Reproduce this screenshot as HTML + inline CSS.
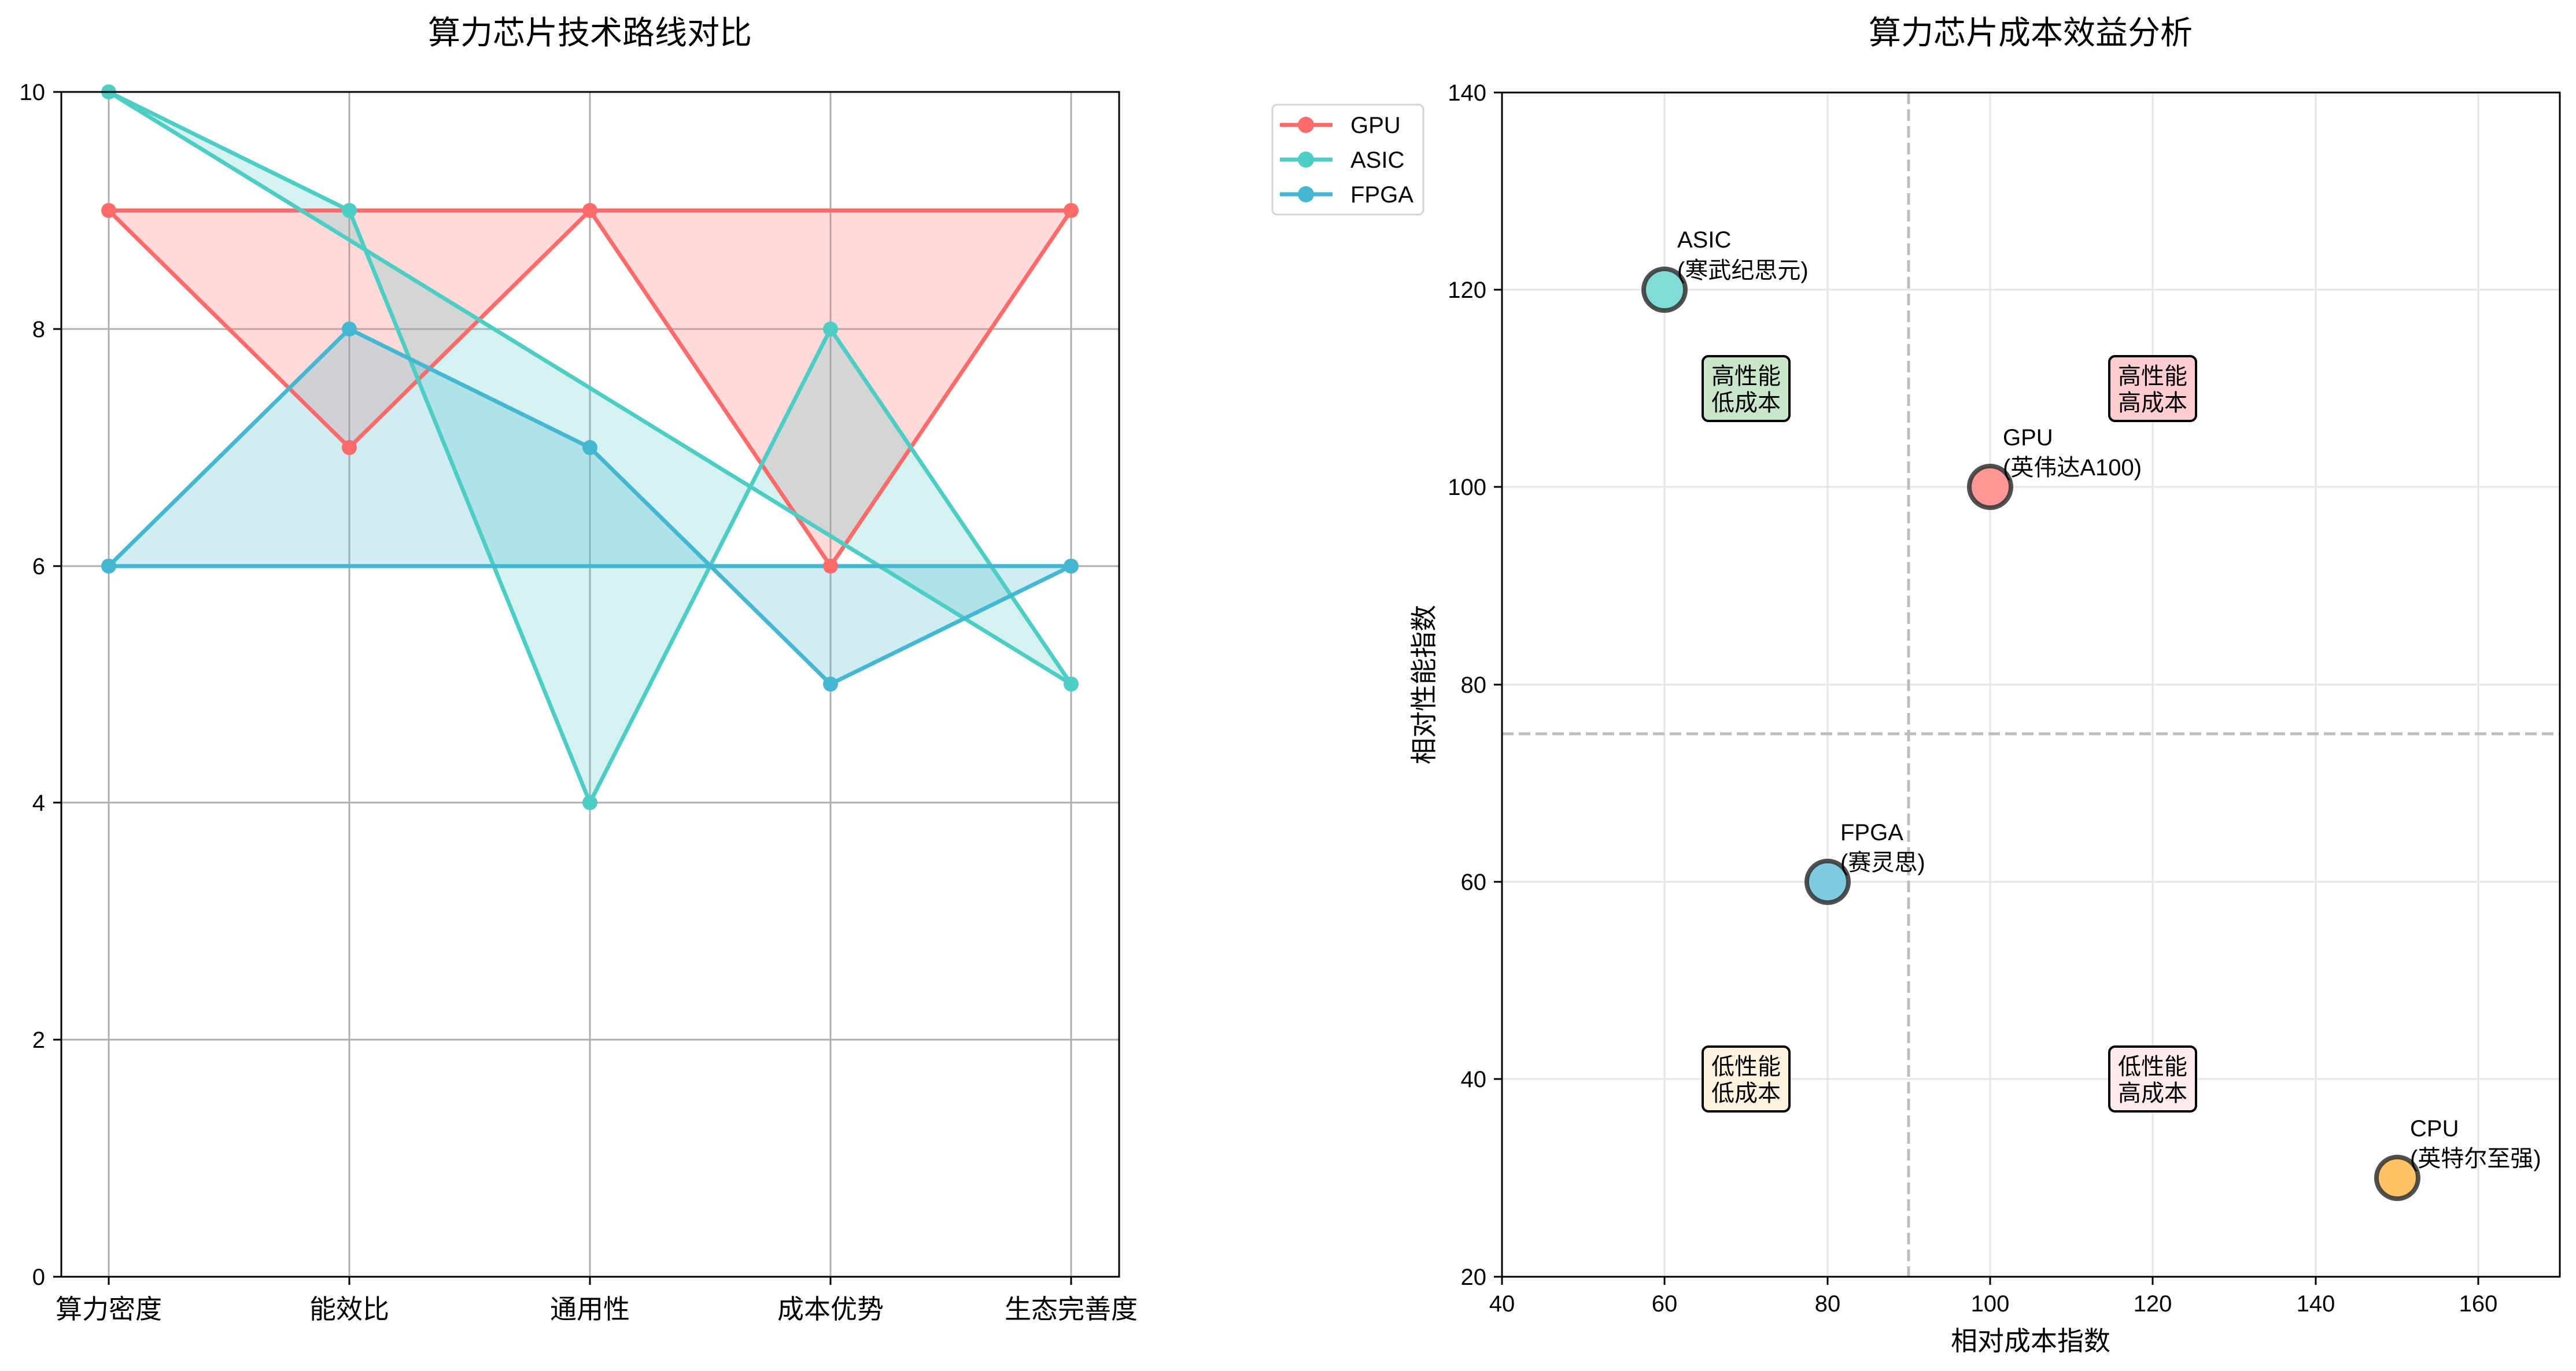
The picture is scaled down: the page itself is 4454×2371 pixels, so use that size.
<!DOCTYPE html>
<html><head><meta charset="utf-8"><style>body{margin:0;background:#fff}svg{display:block}text{font-family:"Liberation Sans","Noto Sans CJK SC",sans-serif;fill:#000}</style></head><body>
<svg width="4454" height="2371" viewBox="0 0 4454 2371" xmlns="http://www.w3.org/2000/svg">
<rect width="4454" height="2371" fill="#fff"/>
<!-- LEFT CHART -->
<text x="1020" y="76" font-size="56" text-anchor="middle">算力芯片技术路线对比</text>
<g stroke="#b0b0b0" stroke-width="3">
<line x1="188" y1="159" x2="188" y2="2208"/><line x1="604" y1="159" x2="604" y2="2208"/><line x1="1020" y1="159" x2="1020" y2="2208"/><line x1="1436" y1="159" x2="1436" y2="2208"/><line x1="1852" y1="159" x2="1852" y2="2208"/>
<line x1="106" y1="1798" x2="1935" y2="1798"/><line x1="106" y1="1388" x2="1935" y2="1388"/><line x1="106" y1="979" x2="1935" y2="979"/><line x1="106" y1="569" x2="1935" y2="569"/>
</g>
<polygon points="188,364 604,774 1020,364 1436,979 1852,364 188,364" fill="#ff6b6b" fill-opacity="0.25"/>
<polygon points="188,159 604,364 1020,1388 1436,569 1852,1183 188,159" fill="#4ecdc4" fill-opacity="0.25"/>
<polygon points="188,979 604,569 1020,774 1436,1183 1852,979 188,979" fill="#45b7d1" fill-opacity="0.25"/>
<g fill="none" stroke-width="7" stroke-linejoin="round">
<polyline points="188,364 604,774 1020,364 1436,979 1852,364 188,364" stroke="#ff6b6b"/>
<polyline points="188,159 604,364 1020,1388 1436,569 1852,1183 188,159" stroke="#4ecdc4"/>
<polyline points="188,979 604,569 1020,774 1436,1183 1852,979 188,979" stroke="#45b7d1"/>
</g>
<g fill="#ff6b6b"><circle cx="188" cy="364" r="13"/><circle cx="604" cy="774" r="13"/><circle cx="1020" cy="364" r="13"/><circle cx="1436" cy="979" r="13"/><circle cx="1852" cy="364" r="13"/></g>
<g fill="#4ecdc4"><circle cx="188" cy="159" r="13"/><circle cx="604" cy="364" r="13"/><circle cx="1020" cy="1388" r="13"/><circle cx="1436" cy="569" r="13"/><circle cx="1852" cy="1183" r="13"/></g>
<g fill="#45b7d1"><circle cx="188" cy="979" r="13"/><circle cx="604" cy="569" r="13"/><circle cx="1020" cy="774" r="13"/><circle cx="1436" cy="1183" r="13"/><circle cx="1852" cy="979" r="13"/></g>
<rect x="106" y="159" width="1829" height="2049" fill="none" stroke="#000" stroke-width="3"/>
<g stroke="#000" stroke-width="3">
<line x1="92" y1="159" x2="106" y2="159"/><line x1="92" y1="569" x2="106" y2="569"/><line x1="92" y1="979" x2="106" y2="979"/><line x1="92" y1="1388" x2="106" y2="1388"/><line x1="92" y1="1798" x2="106" y2="1798"/><line x1="92" y1="2208" x2="106" y2="2208"/>
<line x1="188" y1="2208" x2="188" y2="2222"/><line x1="604" y1="2208" x2="604" y2="2222"/><line x1="1020" y1="2208" x2="1020" y2="2222"/><line x1="1436" y1="2208" x2="1436" y2="2222"/><line x1="1852" y1="2208" x2="1852" y2="2222"/>
</g>
<g font-size="40" text-anchor="end">
<text x="78" y="173">10</text><text x="78" y="583">8</text><text x="78" y="993">6</text><text x="78" y="1402">4</text><text x="78" y="1812">2</text><text x="78" y="2222">0</text>
</g>
<g font-size="46" text-anchor="middle">
<text x="188" y="2280">算力密度</text><text x="604" y="2280">能效比</text><text x="1020" y="2280">通用性</text><text x="1436" y="2280">成本优势</text><text x="1852" y="2280">生态完善度</text>
</g>
<!-- LEGEND -->
<rect x="2200" y="181" width="261" height="190" rx="8" fill="#fff" stroke="#d5d5d5" stroke-width="3"/>
<g stroke-width="7"><line x1="2213" y1="216" x2="2304" y2="216" stroke="#ff6b6b"/><line x1="2213" y1="276" x2="2304" y2="276" stroke="#4ecdc4"/><line x1="2213" y1="336" x2="2304" y2="336" stroke="#45b7d1"/></g>
<circle cx="2258" cy="216" r="14" fill="#ff6b6b"/><circle cx="2258" cy="276" r="14" fill="#4ecdc4"/><circle cx="2258" cy="336" r="14" fill="#45b7d1"/>
<g font-size="40"><text x="2335" y="230">GPU</text><text x="2335" y="290">ASIC</text><text x="2335" y="350">FPGA</text></g>
<!-- RIGHT CHART -->
<text x="3511" y="76" font-size="56" text-anchor="middle">算力芯片成本效益分析</text>
<g stroke="#e6e6e6" stroke-width="3">
<line x1="2878" y1="160" x2="2878" y2="2208"/><line x1="3160" y1="160" x2="3160" y2="2208"/><line x1="3441" y1="160" x2="3441" y2="2208"/><line x1="3722" y1="160" x2="3722" y2="2208"/><line x1="4004" y1="160" x2="4004" y2="2208"/><line x1="4285" y1="160" x2="4285" y2="2208"/>
<line x1="2597" y1="501" x2="4426" y2="501"/><line x1="2597" y1="842" x2="4426" y2="842"/><line x1="2597" y1="1184" x2="4426" y2="1184"/><line x1="2597" y1="1525" x2="4426" y2="1525"/><line x1="2597" y1="1866" x2="4426" y2="1866"/>
</g>
<g stroke="#bdbdbd" stroke-width="5" stroke-dasharray="20,9">
<line x1="3300" y1="160" x2="3300" y2="2208"/><line x1="2597" y1="1269" x2="4426" y2="1269"/>
</g>
<g stroke="#000" stroke-width="4">
<rect x="2944" y="616" width="150" height="112" rx="10" fill="#c8e6c9"/>
<rect x="3647" y="616" width="150" height="112" rx="10" fill="#ffcdd2"/>
<rect x="2944" y="1810" width="150" height="112" rx="10" fill="#fff3e0"/>
<rect x="3647" y="1810" width="150" height="112" rx="10" fill="#ffebee"/>
</g>
<g font-size="40" text-anchor="middle">
<text x="3019" y="664">高性能</text><text x="3019" y="710">低成本</text>
<text x="3722" y="664">高性能</text><text x="3722" y="710">高成本</text>
<text x="3019" y="1858">低性能</text><text x="3019" y="1904">低成本</text>
<text x="3722" y="1858">低性能</text><text x="3722" y="1904">高成本</text>
</g>
<g stroke="#333" stroke-opacity="0.85" stroke-width="8">
<circle cx="3441" cy="842" r="36" fill="#ff9797"/>
<circle cx="2878" cy="501" r="36" fill="#82dcd6"/>
<circle cx="3160" cy="1525" r="36" fill="#7ccbdf"/>
<circle cx="4145" cy="2037" r="36" fill="#ffc266"/>
</g>
<g font-size="40">
<text x="3463" y="770">GPU</text><text x="3463" y="822">(英伟达A100)</text>
<text x="2900" y="428">ASIC</text><text x="2900" y="481">(寒武纪思元)</text>
<text x="3182" y="1453">FPGA</text><text x="3182" y="1505">(赛灵思)</text>
<text x="4167" y="1965">CPU</text><text x="4167" y="2017">(英特尔至强)</text>
</g>
<rect x="2597" y="160" width="1829" height="2048" fill="none" stroke="#000" stroke-width="3"/>
<g stroke="#000" stroke-width="3">
<line x1="2583" y1="160" x2="2597" y2="160"/><line x1="2583" y1="501" x2="2597" y2="501"/><line x1="2583" y1="842" x2="2597" y2="842"/><line x1="2583" y1="1184" x2="2597" y2="1184"/><line x1="2583" y1="1525" x2="2597" y2="1525"/><line x1="2583" y1="1866" x2="2597" y2="1866"/><line x1="2583" y1="2208" x2="2597" y2="2208"/>
<line x1="2597" y1="2208" x2="2597" y2="2222"/><line x1="2878" y1="2208" x2="2878" y2="2222"/><line x1="3160" y1="2208" x2="3160" y2="2222"/><line x1="3441" y1="2208" x2="3441" y2="2222"/><line x1="3722" y1="2208" x2="3722" y2="2222"/><line x1="4004" y1="2208" x2="4004" y2="2222"/><line x1="4285" y1="2208" x2="4285" y2="2222"/>
</g>
<g font-size="40" text-anchor="end">
<text x="2570" y="174">140</text><text x="2570" y="515">120</text><text x="2570" y="856">100</text><text x="2570" y="1198">80</text><text x="2570" y="1539">60</text><text x="2570" y="1880">40</text><text x="2570" y="2222">20</text>
</g>
<g font-size="40" text-anchor="middle">
<text x="2597" y="2268">40</text><text x="2878" y="2268">60</text><text x="3160" y="2268">80</text><text x="3441" y="2268">100</text><text x="3722" y="2268">120</text><text x="4004" y="2268">140</text><text x="4285" y="2268">160</text>
</g>
<text x="3511" y="2335" font-size="46" text-anchor="middle">相对成本指数</text>
<text transform="translate(2478,1184) rotate(-90)" font-size="46" text-anchor="middle">相对性能指数</text>
</svg>
</body></html>
